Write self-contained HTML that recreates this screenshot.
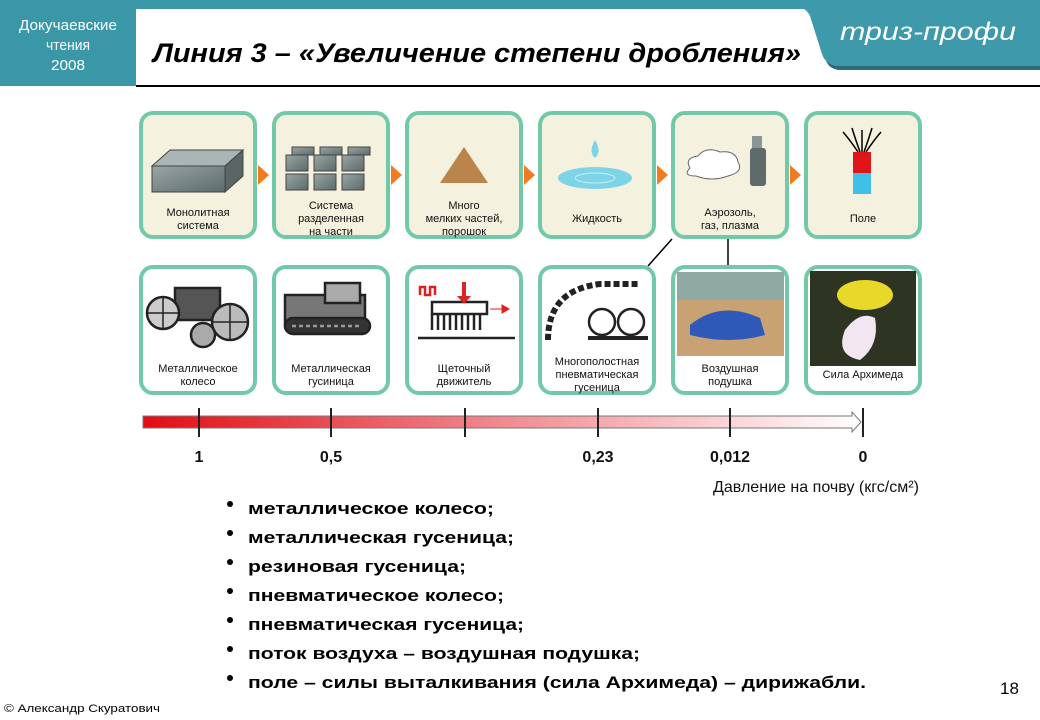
<!DOCTYPE html>
<html><head><meta charset="utf-8"><style>
html,body{margin:0;padding:0;background:#fff;}
svg{display:block}
text{font-family:"Liberation Sans",Arial,sans-serif;}
</style></head><body>
<svg width="1040" height="720" viewBox="0 0 1040 720" xmlns="http://www.w3.org/2000/svg">
<defs>
<linearGradient id="bar" x1="0" x2="1" y1="0" y2="0">
<stop offset="0" stop-color="#e20c14"/><stop offset="0.5" stop-color="#f08a90"/><stop offset="1" stop-color="#ffffff"/>
</linearGradient>
<linearGradient id="box" x1="0" x2="1" y1="0" y2="1"><stop offset="0" stop-color="#9aa6a6"/><stop offset="1" stop-color="#5c6a6a"/></linearGradient>
</defs>
<rect x="0" y="0" width="1040" height="9" fill="#3a97a8"/>
<rect x="0" y="0" width="136" height="86" fill="#3a97a8"/>
<path d="M800 0 H1040 V66 H840 Q826 66 822 54 L810 16 Q806 8 800 8 Z" fill="#3e9aab"/>
<path d="M826 60 Q830 66 840 66 H1040 V70 H838 Q828 68 826 60 Z" fill="#2b6a78"/>
<text x="68" y="30" font-size="15" fill="#fff" text-anchor="middle" textLength="98" lengthAdjust="spacingAndGlyphs">Докучаевские</text>
<text x="68" y="50" font-size="15" fill="#fff" text-anchor="middle" textLength="44" lengthAdjust="spacingAndGlyphs">чтения</text>
<text x="68" y="70" font-size="15" fill="#fff" text-anchor="middle" textLength="34" lengthAdjust="spacingAndGlyphs">2008</text>
<text x="928" y="40" font-size="25" fill="#fff" font-style="italic" text-anchor="middle" textLength="176" lengthAdjust="spacingAndGlyphs">триз-профи</text>
<text x="153" y="62" font-size="27" font-weight="bold" font-style="italic" fill="#000" textLength="648" lengthAdjust="spacingAndGlyphs">Линия 3 – «Увеличение степени дробления»</text>
<rect x="136" y="85" width="904" height="2" fill="#000"/>

<g stroke="#72c9a8" stroke-width="4" fill="#f4f1de">
<rect x="141" y="113" width="114" height="124" rx="12"/>
<rect x="274" y="113" width="114" height="124" rx="12"/>
<rect x="407" y="113" width="114" height="124" rx="12"/>
<rect x="540" y="113" width="114" height="124" rx="12"/>
<rect x="673" y="113" width="114" height="124" rx="12"/>
<rect x="806" y="113" width="114" height="124" rx="12"/>
</g>
<g fill="#f47a20">
<path d="M258 165 l11 10 l-11 10 z"/><path d="M391 165 l11 10 l-11 10 z"/><path d="M524 165 l11 10 l-11 10 z"/><path d="M657 165 l11 10 l-11 10 z"/><path d="M790 165 l11 10 l-11 10 z"/>
</g>
<path d="M152 166 L170 150 H243 L225 166 Z" fill="#aab5b5" stroke="#444"/>
<rect x="152" y="166" width="73" height="26" fill="url(#box)" stroke="#444"/>
<path d="M225 166 L243 150 V176 L225 192Z" fill="#5a6666" stroke="#444"/>
<g fill="url(#box)" stroke="#444">
<rect x="286" y="155" width="22" height="16"/><rect x="314" y="155" width="22" height="16"/><rect x="342" y="155" width="22" height="16"/>
<rect x="286" y="174" width="22" height="16"/><rect x="314" y="174" width="22" height="16"/><rect x="342" y="174" width="22" height="16"/>
<rect x="292" y="147" width="22" height="8"/><rect x="320" y="147" width="22" height="8"/><rect x="348" y="147" width="22" height="8"/>
</g>
<path d="M440 183 L464 147 L488 183 Z" fill="#b9854a"/>
<ellipse cx="595" cy="178" rx="37" ry="11" fill="#7ed4e6"/>
<ellipse cx="595" cy="178" rx="20" ry="5" fill="none" stroke="#c6f0f7"/>
<path d="M595 140 Q602 152 595 158 Q588 152 595 140Z" fill="#7ed4e6"/>
<path d="M690 168 Q684 158 698 156 Q706 146 720 152 Q736 150 738 162 Q744 172 728 176 Q712 182 696 176 Q682 176 690 168Z" fill="#fff" stroke="#666"/>
<rect x="750" y="148" width="16" height="38" rx="3" fill="#5f6b6b"/>
<rect x="752" y="136" width="10" height="12" fill="#8a9595"/>
<rect x="853" y="152" width="18" height="21" fill="#e0151c"/><rect x="853" y="173" width="18" height="21" fill="#3fc0e8"/>
<g stroke="#000" stroke-width="1.5" fill="none"><path d="M862 152 V130 M858 152 Q850 140 843 132 M866 152 Q874 140 881 132 M860 152 Q855 138 852 128 M864 152 Q869 138 872 128"/></g>
<g font-size="11" fill="#111" text-anchor="middle">
<text x="198" y="216">Монолитная</text><text x="198" y="229">система</text>
<text x="331" y="209">Система</text><text x="331" y="222">разделенная</text><text x="331" y="235">на части</text>
<text x="464" y="209">Много</text><text x="464" y="222">мелких частей,</text><text x="464" y="235">порошок</text>
<text x="597" y="222">Жидкость</text>
<text x="730" y="216">Аэрозоль,</text><text x="730" y="229">газ, плазма</text>
<text x="863" y="222">Поле</text>
</g>
<line x1="672" y1="239" x2="648" y2="266" stroke="#000" stroke-width="1.5"/>
<line x1="728" y1="239" x2="728" y2="266" stroke="#000" stroke-width="1.5"/>

<g stroke="#72c9a8" stroke-width="4" fill="#fff">
<rect x="141" y="267" width="114" height="126" rx="12"/>
<rect x="274" y="267" width="114" height="126" rx="12"/>
<rect x="407" y="267" width="114" height="126" rx="12"/>
<rect x="540" y="267" width="114" height="126" rx="12"/>
<rect x="673" y="267" width="114" height="126" rx="12"/>
<rect x="806" y="267" width="114" height="126" rx="12"/>
</g>
<g stroke="#222" fill="none" stroke-width="2.5">
<rect x="175" y="288" width="45" height="32" fill="#555"/>
<circle cx="163" cy="313" r="16" fill="#ccc"/><circle cx="230" cy="322" r="18" fill="#bbb"/><circle cx="203" cy="335" r="12" fill="#aaa"/>
<path d="M163 297 v32 M147 313 h32 M230 304 v36 M212 322 h36" stroke-width="1.5"/>
<rect x="285" y="295" width="80" height="30" fill="#777"/><rect x="325" y="283" width="35" height="20" fill="#aaa"/>
<rect x="285" y="318" width="85" height="16" rx="8" fill="#333"/>
<path d="M292 326 h70" stroke="#999" stroke-dasharray="4 3"/>
<rect x="432" y="302" width="55" height="12"/>
<path d="M432 314 v16 M438 314 v16 M444 314 v16 M450 314 v16 M456 314 v16 M462 314 v16 M468 314 v16 M474 314 v16 M480 314 v16"/>
<line x1="418" y1="338" x2="515" y2="338"/>
<path d="M420 295 v-8 h5 v8 h5 v-8 h5 v8" stroke="#d22"/>
<path d="M548 340 Q548 290 600 284 H640" stroke-dasharray="6 3" stroke-width="6"/>
<circle cx="602" cy="322" r="13"/><circle cx="631" cy="322" r="13"/>
<line x1="588" y1="338" x2="648" y2="338" stroke-width="4"/>
</g>
<path d="M462 282 v14 h-5 l7 8 l7 -8 h-5 v-14z" fill="#d22"/>
<path d="M490 309 h12 v-4 l7 4 l-7 4 v-4z" fill="#d22" stroke="#d22"/>
<rect x="677" y="272" width="107" height="84" fill="#c8a272"/>
<rect x="677" y="272" width="107" height="28" fill="#8fa9a2"/>
<path d="M690 325 Q720 300 760 318 L765 335 Q730 345 690 335Z" fill="#2f59b8"/>
<rect x="810" y="271" width="106" height="95" fill="#2d3522"/>
<ellipse cx="865" cy="295" rx="28" ry="15" fill="#e7d82a"/>
<path d="M845 330 Q860 310 875 318 Q880 345 860 360 Q835 355 845 330Z" fill="#f2e6f0"/>
<g font-size="11" fill="#111" text-anchor="middle">
<text x="198" y="372">Металлическое</text><text x="198" y="385">колесо</text>
<text x="331" y="372">Металлическая</text><text x="331" y="385">гусиница</text>
<text x="464" y="372">Щеточный</text><text x="464" y="385">движитель</text>
<text x="597" y="365">Многополостная</text><text x="597" y="378">пневматическая</text><text x="597" y="391">гусеница</text>
<text x="730" y="372">Воздушная</text><text x="730" y="385">подушка</text>
<text x="863" y="378">Сила Архимеда</text>
</g>

<path d="M143 416 H852 V412 L861 422 L852 432 V428 H143 Z" fill="url(#bar)" stroke="#777" stroke-width="1"/>
<g stroke="#222" stroke-width="2">
<line x1="199" y1="408" x2="199" y2="437"/><line x1="331" y1="408" x2="331" y2="437"/><line x1="465" y1="408" x2="465" y2="437"/>
<line x1="598" y1="408" x2="598" y2="437"/><line x1="730" y1="408" x2="730" y2="437"/><line x1="863" y1="408" x2="863" y2="437"/>
</g>
<g font-size="16" font-weight="bold" fill="#111" text-anchor="middle">
<text x="199" y="462">1</text><text x="331" y="462">0,5</text><text x="598" y="462">0,23</text><text x="730" y="462">0,012</text><text x="863" y="462">0</text>
</g>
<text x="713" y="492" font-size="16" fill="#111" textLength="206" lengthAdjust="spacingAndGlyphs">Давление на почву (кгс/см²)</text>

<g fill="#000">
<circle cx="230" cy="504" r="3"/><circle cx="230" cy="533" r="3"/><circle cx="230" cy="562" r="3"/><circle cx="230" cy="591" r="3"/><circle cx="230" cy="620" r="3"/><circle cx="230" cy="649" r="3"/><circle cx="230" cy="678" r="3"/>
</g>
<g font-size="17" font-weight="bold" fill="#000">
<text x="248" y="514" textLength="246" lengthAdjust="spacingAndGlyphs">металлическое колесо;</text>
<text x="248" y="543" textLength="266" lengthAdjust="spacingAndGlyphs">металлическая гусеница;</text>
<text x="248" y="572" textLength="218" lengthAdjust="spacingAndGlyphs">резиновая гусеница;</text>
<text x="248" y="601" textLength="256" lengthAdjust="spacingAndGlyphs">пневматическое колесо;</text>
<text x="248" y="630" textLength="276" lengthAdjust="spacingAndGlyphs">пневматическая гусеница;</text>
<text x="248" y="659" textLength="392" lengthAdjust="spacingAndGlyphs">поток воздуха – воздушная подушка;</text>
<text x="248" y="688" textLength="618" lengthAdjust="spacingAndGlyphs">поле – силы выталкивания (сила Архимеда) – дирижабли.</text>
</g>
<text x="1000" y="694" font-size="17" fill="#000">18</text>
<text x="4" y="712" font-size="11" fill="#000" textLength="156" lengthAdjust="spacingAndGlyphs">© Александр Скуратович</text>
</svg>
</body></html>
